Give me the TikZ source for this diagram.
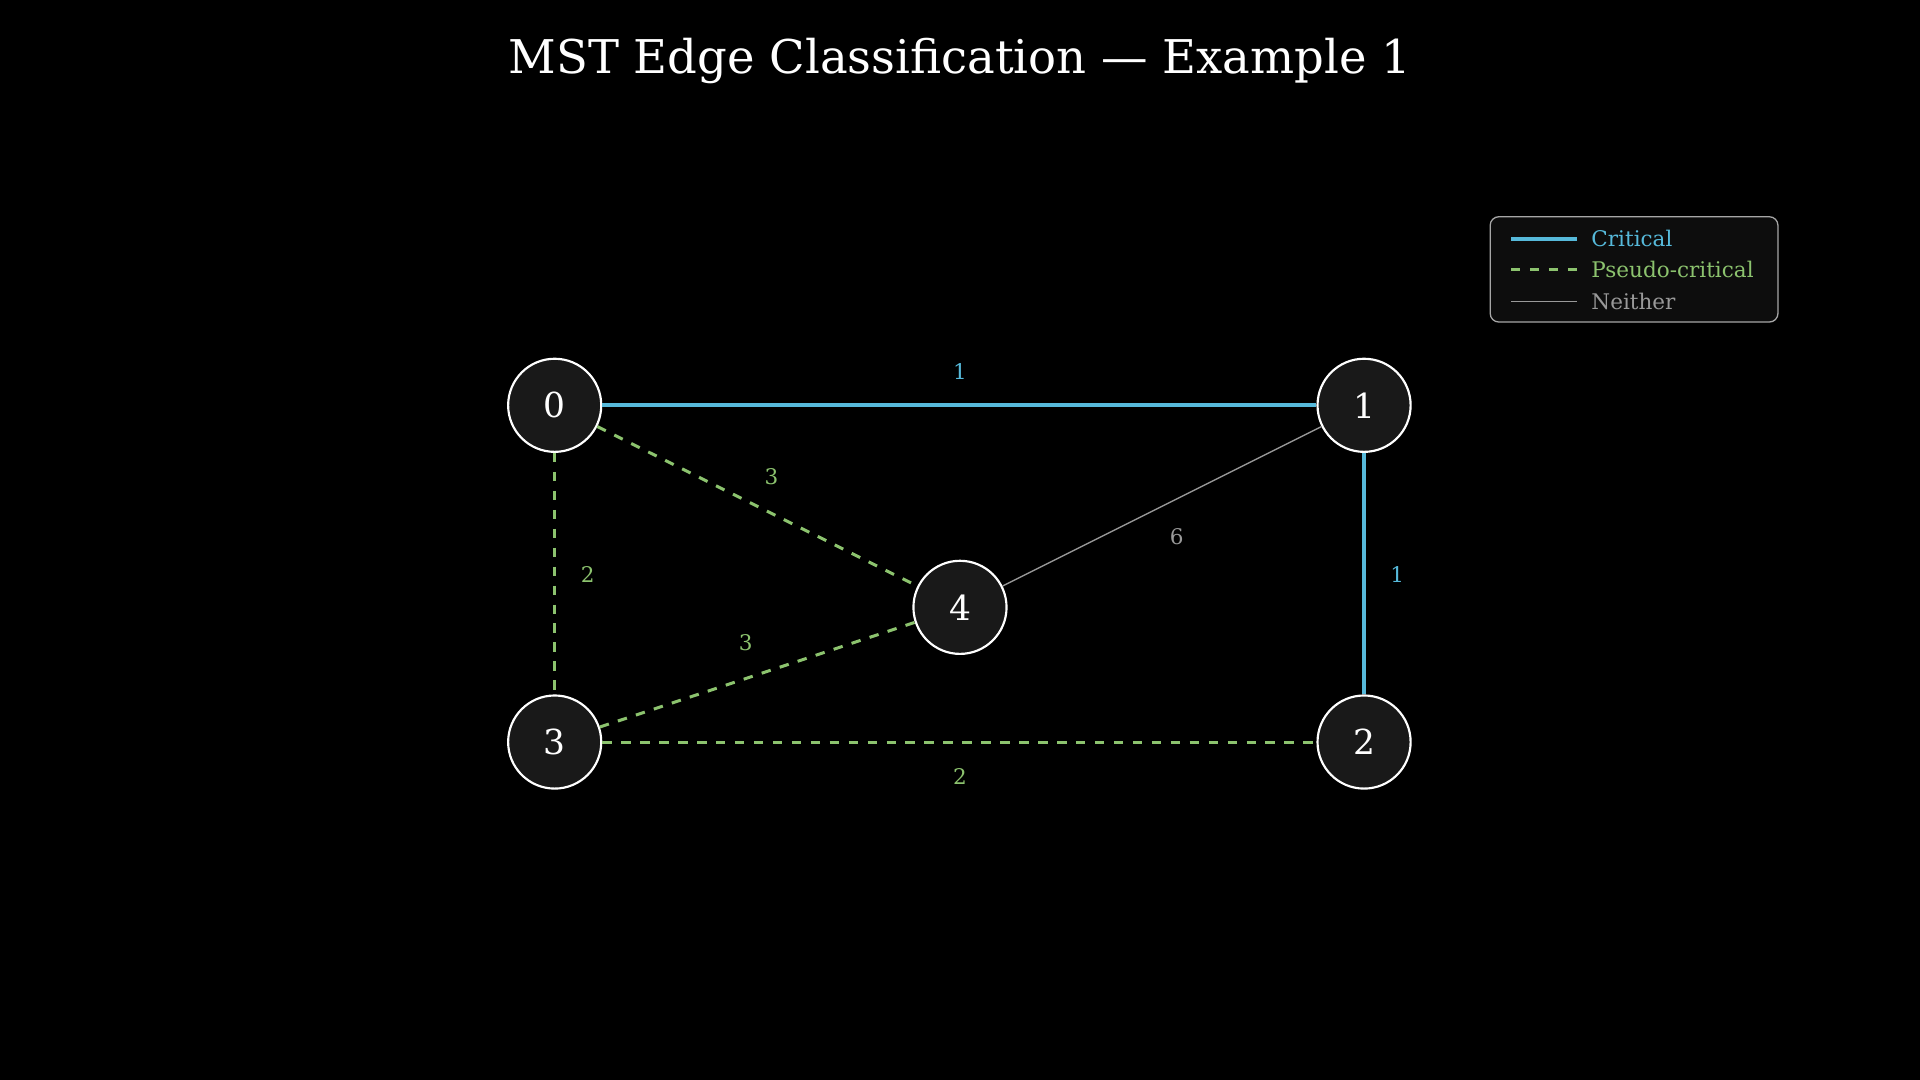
\documentclass[tikz,border=0pt]{standalone}
\usepackage{fontspec}
\setmainfont{DejaVu Serif}
\begin{document}
\begin{tikzpicture}[x=0.01cm,y=-0.01cm,
  vtx/.style={circle,draw=white,fill=black!90,line width=0.5pt,minimum size=0.76cm,inner sep=0pt,text=white,font=\fontsize{8}{9}\selectfont},
  crit/.style={draw={rgb,255:red,86;green,185;blue,218},line width=0.85pt},
  pseudo/.style={draw={rgb,255:red,140;green,195;blue,110},line width=0.7pt,dash pattern=on 2.2pt off 2.2pt},
  neith/.style={draw=gray!80,line width=0.3pt},
  lc/.style={text={rgb,255:red,86;green,185;blue,218},font=\fontsize{5}{6}\selectfont},
  lp/.style={text={rgb,255:red,140;green,195;blue,110},font=\fontsize{5}{6}\selectfont},
  ln/.style={text=gray!80,font=\fontsize{5}{6}\selectfont}]
\fill[black] (0,0) rectangle (1568,882);
\useasboundingbox (0,0) rectangle (1568,882);
\node[text=white,font=\fontsize{10.8}{12}\selectfont] (title) at (784,50) {MST Edge Classification — Example 1};
\node[vtx] (n0) at (453,331) {0};
\node[vtx] (n1) at (1114,331) {1};
\node[vtx] (n2) at (1114,606) {2};
\node[vtx] (n3) at (453,606) {3};
\node[vtx] (n4) at (784,496) {4};
\begin{scope}[on background layer/.try]
\end{scope}
\draw[crit] (n0) -- (n1);
\draw[crit] (n1) -- (n2);
\draw[pseudo] (n0) -- (n4);
\draw[pseudo] (n0) -- (n3);
\draw[pseudo] (n3) -- (n4);
\draw[pseudo] (n3) -- (n2);
\draw[neith] (n1) -- (n4);
\node[lc] (e01) at (784,303) {1};
\node[lp] (e04) at (630,389) {3};
\node[ln] (e14) at (961,438) {6};
\node[lc] (e12) at (1141,469) {1};
\node[lp] (e03) at (480,469) {2};
\node[lp] (e34) at (609,525) {3};
\node[lp] (e32) at (784,634) {2};
% legend
\draw[rounded corners=2pt,fill=black!95!white,draw=gray!70,line width=0.3pt] (1217,177) rectangle (1452,263);
\coordinate (la1) at (1234,195); \coordinate (lb1) at (1288,195);
\coordinate (la2) at (1234,220); \coordinate (lb2) at (1288,220);
\coordinate (la3) at (1234,246); \coordinate (lb3) at (1288,246);
\draw[crit] (la1) -- (lb1);
\draw[pseudo] (la2) -- (lb2);
\draw[neith] (la3) -- (lb3);
\node[lc,anchor=west,inner sep=0pt] (t1) at (1299,195) {Critical};
\node[lp,anchor=west,inner sep=0pt] (t2) at (1299,220) {Pseudo-critical};
\node[ln,anchor=west,inner sep=0pt] (t3) at (1299,246) {Neither};
\end{tikzpicture}
\end{document}
